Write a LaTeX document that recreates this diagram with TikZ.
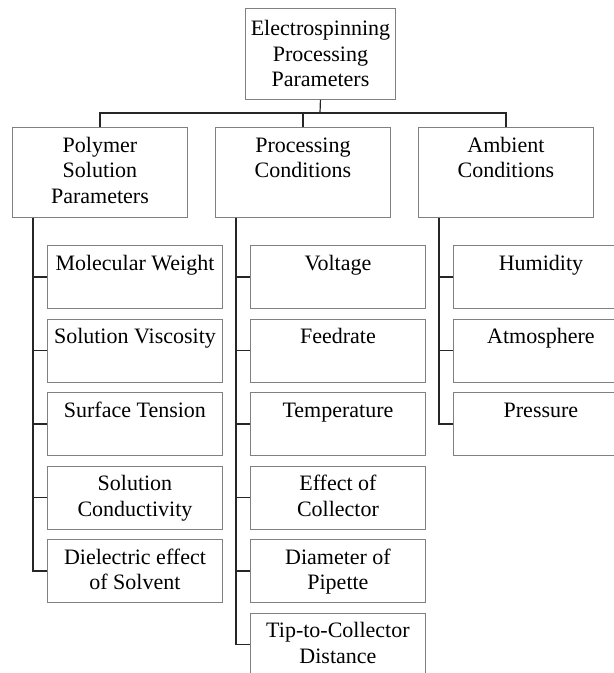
\documentclass[tikz,border=0pt]{standalone}
\usepackage{fontspec}
\setmainfont{Liberation Serif}

% box contents: width, height, text (text hangs from the top edge)
\newcommand{\boxtext}[3]{\parbox[c][#2pt][t]{#1pt}{\centering\rule{0pt}{25pt}#3}}

\begin{document}
\begin{tikzpicture}[x=1pt,y=-1pt,
  box/.style={draw=black!50,line width=0.9pt,inner sep=0pt,anchor=north west,
              font=\fontsize{22}{25.5}\selectfont},
  link/.style={draw=black!85,line width=1.2pt}]
  \useasboundingbox (0,0) rectangle (614,673);
  \clip (0,0) rectangle (614,673);

  % Top of the Figure
  \node[box]    (esp)       at (245,8)   {\parbox[c][91pt][c]{150pt}{\centering Electrospinning\\Processing\\Parameters}};
  \coordinate   (bus)       at (320,113);
  \node[box]    (poly)      at (12,127)  {\boxtext{175}{90}{Polymer\\Solution\\Parameters}};
  \node[box]    (proc)      at (215,127) {\boxtext{175}{90}{Processing\\Conditions}};
  \node[box]    (amb)       at (418,127) {\boxtext{175}{90}{Ambient\\Conditions}};
  \draw[link] (esp.south) -- (bus);
  \draw[link] (poly.north) |- (bus) -| (amb.north);
  \draw[link] (proc.north) -- (proc.north |- bus);

  % Polymer solution parameters
  \node[box]    (mw)        at (47,245)   {\boxtext{175}{63}{Molecular Weight}};
  \node[box]    (sv)        at (47,318.5) {\boxtext{175}{63}{Solution Viscosity}};
  \node[box]    (st)        at (47,392)   {\boxtext{175}{63}{Surface Tension}};
  \node[box]    (sc)        at (47,465.5) {\boxtext{175}{63}{Solution\\Conductivity}};
  \node[box]    (de)        at (47,539)   {\boxtext{175}{63}{Dielectric effect\\of Solvent}};
  \draw[link] ([xshift=21pt]poly.south west) |- (mw.west);
  \draw[link] ([xshift=21pt]poly.south west) |- (sv.west);
  \draw[link] ([xshift=21pt]poly.south west) |- (st.west);
  \draw[link] ([xshift=21pt]poly.south west) |- (sc.west);
  \draw[link] ([xshift=21pt]poly.south west) |- (de.west);

  % Processing conditions
  \node[box]    (volt)      at (250,245)   {\boxtext{175}{63}{Voltage}};
  \node[box]    (feed)      at (250,318.5) {\boxtext{175}{63}{Feedrate}};
  \node[box]    (temp)      at (250,392)   {\boxtext{175}{63}{Temperature}};
  \node[box]    (coll)      at (250,465.5) {\boxtext{175}{63}{Effect of\\Collector}};
  \node[box]    (pip)       at (250,539)   {\boxtext{175}{63}{Diameter of\\Pipette}};
  \node[box]    (dist)      at (250,612.5) {\boxtext{175}{63}{Tip-to-Collector\\Distance}};
  \draw[link] ([xshift=21pt]proc.south west) |- (volt.west);
  \draw[link] ([xshift=21pt]proc.south west) |- (feed.west);
  \draw[link] ([xshift=21pt]proc.south west) |- (temp.west);
  \draw[link] ([xshift=21pt]proc.south west) |- (coll.west);
  \draw[link] ([xshift=21pt]proc.south west) |- (pip.west);
  \draw[link] ([xshift=21pt]proc.south west) |- (dist.west);

  % Ambient conditions
  \node[box]    (hum)       at (453,245)   {\boxtext{175}{63}{Humidity}};
  \node[box]    (atm)       at (453,318.5) {\boxtext{175}{63}{Atmosphere}};
  \node[box]    (pres)      at (453,392)   {\boxtext{175}{63}{Pressure}};
  \draw[link] ([xshift=21pt]amb.south west) |- (hum.west);
  \draw[link] ([xshift=21pt]amb.south west) |- (atm.west);
  \draw[link] ([xshift=21pt]amb.south west) |- (pres.west);
\end{tikzpicture}
\end{document}
